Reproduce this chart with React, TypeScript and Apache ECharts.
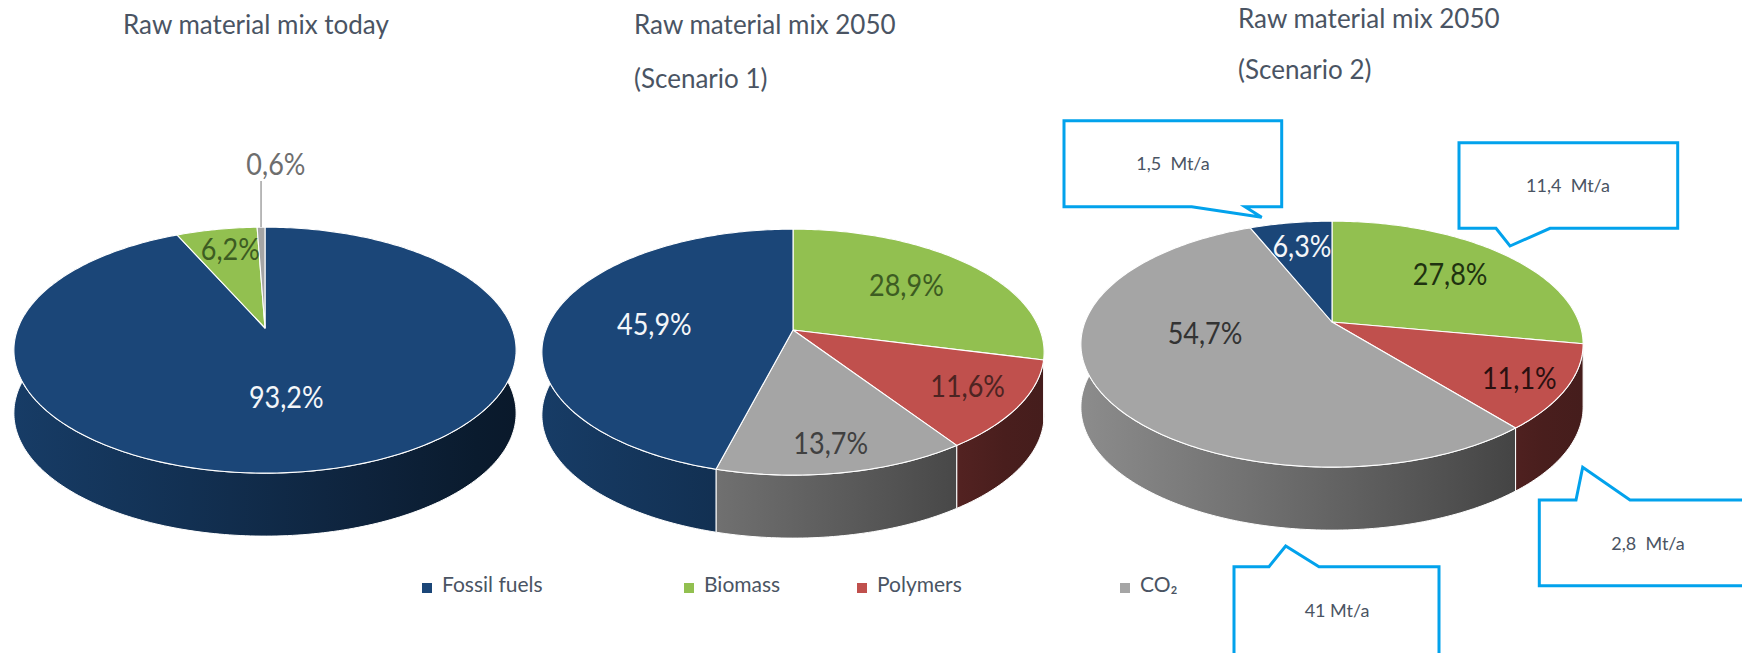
import React, { useEffect, useRef } from 'react';
import * as echarts from 'echarts';

// ---------- data ----------
const categories = ['Fossil fuels', 'Biomass', 'Polymers', 'CO₂'];

// slices listed clockwise from 12 o'clock
const todayNames = ['Fossil fuels', 'Biomass', 'CO₂'];
const todayValues = [93.2, 6.2, 0.6];

const scen1Names = ['Biomass', 'Polymers', 'CO₂', 'Fossil fuels'];
const scen1Values = [28.9, 11.6, 13.7, 45.9];

const scen2Names = ['Biomass', 'Polymers', 'CO₂', 'Fossil fuels'];
const scen2Values = [27.8, 11.1, 54.7, 6.3];
const scen2Amounts = ['11,4  Mt/a', '2,8  Mt/a', '41 Mt/a', '1,5  Mt/a'];

const titleLines = [
  ['Raw material mix today'],
  ['Raw material mix 2050', '(Scenario 1)'],
  ['Raw material mix 2050', '(Scenario 2)'],
];

// ---------- styles ----------
const COLORS: Record<string, string> = {
  'Fossil fuels': '#1b4678',
  Biomass: '#92c050',
  Polymers: '#c0504d',
  'CO₂': '#a5a5a5',
};
const TEXT = '#4a5463';
const CALLOUT = '#02a2ec';
const RX = 247;
const RY = 119;
const P = 0.18;
const H = 63;

type Pie = {
  names: string[];
  values: number[];
  cx: number;
  cy: number;
  labelR: number[];
  labelShift: number[];
  labelColors: string[];
};

const pies: Pie[] = [
  {
    names: todayNames, values: todayValues, cx: 265, cy: 328,
    labelR: [0.52, 0.78, 1.85], labelShift: [3.6, 1.5, 2.9],
    labelColors: ['#f4f6f9', '#3d5c22', '#6e6e6e'],
  },
  {
    names: scen1Names, values: scen1Values, cx: 793, cy: 330,
    labelR: [0.65, 0.78, 0.815, 0.57], labelShift: [-2.5, -1.6, 0.5, -1.6],
    labelColors: ['#3d5c22', '#4d2422', '#404040', '#f4f6f9'],
  },
  {
    names: scen2Names, values: scen2Values, cx: 1332, cy: 322,
    labelR: [0.68, 0.82, 0.513, 0.745], labelShift: [-0.7, 1.2, 22.2, 0.7],
    labelColors: ['#1f3210', '#2b1010', '#333333', '#f4f6f9'],
  },
];

function shade(hex: string, f: number) {
  const n = parseInt(hex.slice(1), 16);
  const r = Math.round(((n >> 16) & 255) * f);
  const g = Math.round(((n >> 8) & 255) * f);
  const b = Math.round((n & 255) * f);
  return `rgb(${r},${g},${b})`;
}

function proj(pie: Pie, f: number, deg: number): [number, number] {
  const t = (deg * Math.PI) / 180;
  const a = f * Math.sin(t);
  const b = -f * Math.cos(t);
  const d = 1 - P * b;
  return [pie.cx + (RX * a) / d, pie.cy + (RY * b) / d];
}

function arcPts(pie: Pie, a0: number, a1: number) {
  const n = Math.max(2, Math.ceil(Math.abs(a1 - a0)) + 1);
  const pts: [number, number][] = [];
  for (let i = 0; i < n; i++) pts.push(proj(pie, 1, a0 + ((a1 - a0) * i) / (n - 1)));
  return pts;
}

function angles(pie: Pie, k: number) {
  const total = pie.values.reduce((s, v) => s + v, 0);
  let acc = 0;
  for (let i = 0; i < k; i++) acc += pie.values[i];
  return [(acc / total) * 360, ((acc + pie.values[k]) / total) * 360];
}

const fmt = (v: number) => v.toFixed(1).replace('.', ',') + '%';

function buildSeries() {
  const series: any[] = [];
  pies.forEach((pie, pi) => {
    const data = pie.values.map((v, k) => ({ name: pie.names[k], value: v }));
    // side walls
    series.push({
      type: 'custom',
      name: 'walls' + pi,
      coordinateSystem: 'none',
      silent: true,
      z: 2,
      data,
      renderItem: (params: any) => {
        const k = params.dataIndex;
        const [a0, a1] = angles(pie, k);
        const top = arcPts(pie, a0, a1);
        const bottom = top.map(([x, y]) => [x, y + H]).reverse();
        const base = COLORS[pie.names[k]];
        const grad = new echarts.graphic.LinearGradient(
          pie.cx - RX * 1.02, 0, pie.cx + RX * 1.02, 0,
          [
            { offset: 0, color: shade(base, 0.85) },
            { offset: 0.35, color: shade(base, 0.68) },
            { offset: 0.7, color: shade(base, 0.5) },
            { offset: 0.92, color: shade(base, 0.38) },
            { offset: 1, color: shade(base, 0.36) },
          ],
          true
        );
        return {
          type: 'polygon',
          shape: { points: [...top, ...bottom] },
          style: { fill: grad, stroke: '#ffffff', lineWidth: 1 },
        };
      },
    });
    // top faces + labels
    series.push({
      type: 'custom',
      name: 'tops' + pi,
      coordinateSystem: 'none',
      silent: true,
      z: 3,
      data,
      renderItem: (params: any, api: any) => {
        const k = params.dataIndex;
        const value = api.value(0);
        const [a0, a1] = angles(pie, k);
        const pts = [proj(pie, 0, 0), ...arcPts(pie, a0, a1)];
        const mid = (a0 + a1) / 2 + pie.labelShift[k];
        const r = pie.labelR[k];
        const [lx, ly] = proj(pie, r, mid);
        const children: any[] = [
          {
            type: 'polygon',
            shape: { points: pts },
            style: { fill: COLORS[pie.names[k]], stroke: '#ffffff', lineWidth: 1.1, lineJoin: 'round' },
          },
        ];
        if (r > 1) {
          const [rx, ry] = proj(pie, 1, (a0 + a1) / 2);
          children.push({
            type: 'line',
            z2: 8,
            shape: { x1: rx, y1: ry, x2: rx, y2: ly + 18 },
            style: { stroke: '#a8a8a8', lineWidth: 1.6 },
          });
        }
        children.push({
          type: 'text',
          z2: 10,
          x: lx,
          y: ly,
          scaleY: 1.15,
          style: {
            text: fmt(value),
            x: 0,
            y: 0,
            fill: pie.labelColors[k],
            fontSize: 27,
            fontFamily: 'Lato',
            align: 'center',
            verticalAlign: 'middle',
          },
        });
        return { type: 'group', children };
      },
    });
  });
  return series;
}

function buildGraphic() {
  const els: any[] = [];
  const titlePos = [
    { x: 123, y: [24] },
    { x: 634, y: [24, 78] },
    { x: 1238, y: [18, 69] },
  ];
  titleLines.forEach((lines, i) => {
    lines.forEach((t, j) => {
      els.push({
        type: 'text',
        x: titlePos[i].x,
        y: titlePos[i].y[j],
        style: { text: t, fill: TEXT, fontSize: 26, fontFamily: 'Lato', align: 'left', verticalAlign: 'middle' },
      });
    });
  });
  // legend
  const legendX = [422, 684, 857, 1120];
  categories.forEach((c, i) => {
    els.push({
      type: 'rect',
      shape: { x: legendX[i], y: 583, width: 10, height: 10 },
      style: { fill: COLORS[c] },
    });
    els.push({
      type: 'text',
      x: legendX[i] + 20,
      y: 583,
      style: { text: c, fill: TEXT, fontSize: 21, fontFamily: 'Lato', align: 'left', verticalAlign: 'middle' },
    });
  });
  // callouts (scenario 2 amounts)
  const callouts = [
    { pts: [[1459, 142.7], [1677.7, 142.7], [1677.7, 228.3], [1550, 228.3], [1510, 246], [1496, 228.3], [1459, 228.3]], tx: 1568, ty: 185 },
    { pts: [[1539.3, 500], [1576, 500], [1582.7, 467.3], [1630, 500], [1760, 500], [1760, 585.7], [1539.3, 585.7]], tx: 1648, ty: 543 },
    { pts: [[1234, 566.7], [1269, 566.7], [1285.7, 546], [1319, 566.7], [1439, 566.7], [1439, 660], [1234, 660]], tx: 1337, ty: 610 },
    { pts: [[1064, 120.7], [1281.7, 120.7], [1281.7, 206.7], [1245, 206.7], [1261.7, 217.3], [1191.7, 206.7], [1064, 206.7]], tx: 1173, ty: 163 },
  ];
  callouts.forEach((c, i) => {
    els.push({
      type: 'polygon',
      z: 50,
      shape: { points: c.pts },
      style: { fill: '#ffffff', stroke: CALLOUT, lineWidth: 3, lineJoin: 'miter' },
    });
    els.push({
      type: 'text',
      z: 51,
      x: c.tx,
      y: c.ty,
      style: { text: scen2Amounts[i], fill: TEXT, fontSize: 18, fontFamily: 'Lato', align: 'center', verticalAlign: 'middle' },
    });
  });
  return els;
}

export default function App() {
  const ref = useRef<HTMLDivElement>(null);
  useEffect(() => {
    if (!ref.current) return;
    const chart = echarts.init(ref.current, undefined, { renderer: 'svg' });
    chart.setOption({
      animation: false,
      backgroundColor: '#ffffff',
      graphic: { elements: buildGraphic() },
      series: buildSeries(),
    });
    return () => chart.dispose();
  }, []);
  return (
    <div
      ref={ref}
      style={{ position: 'absolute', left: 0, top: 0, width: 1742, height: 653, background: '#fff' }}
    />
  );
}
